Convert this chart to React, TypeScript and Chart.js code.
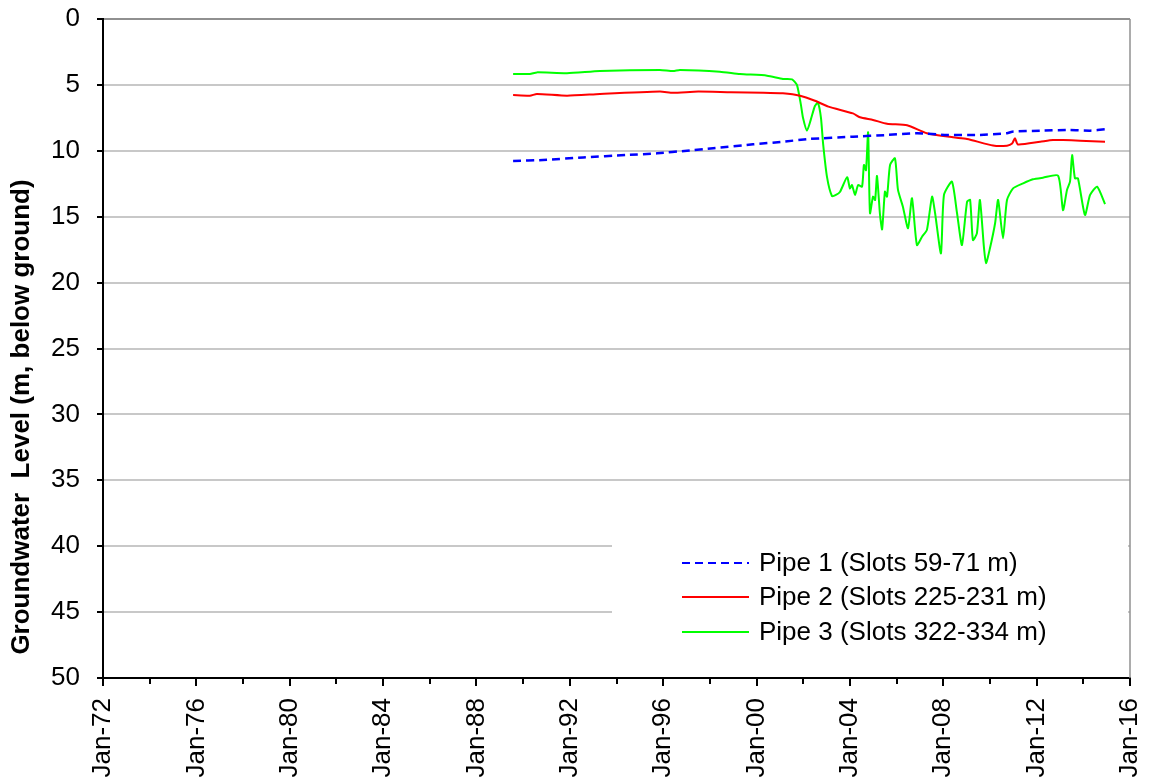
import React, { useEffect, useRef } from 'react';
import { Chart, registerables } from 'chart.js';

Chart.register(...registerables);

// ---- Data (decimal years, metres below ground) ----
const pipe1Years = [1989.57, 1990.85, 1992.57, 1994.45, 1995.74, 1997.02, 1998.14, 1999.85, 2001.13, 2002.29, 2004.13, 2005.59, 2006.88, 2008.16, 2009.45, 2010.73, 2010.95, 2012.15, 2013.43, 2014.29, 2014.93];
const pipe1Levels = [10.77, 10.7, 10.5, 10.32, 10.19, 9.99, 9.81, 9.51, 9.31, 9.1, 8.93, 8.8, 8.67, 8.8, 8.8, 8.67, 8.55, 8.47, 8.42, 8.47, 8.37];

const pipe2Years = [1989.57, 1990.29, 1990.59, 1991.88, 1993.29, 1995.86, 1996.42, 1997.5, 1998.9, 2000.3, 2001.13, 2001.86, 2002.5, 2003.08, 2004.13, 2004.43, 2004.99, 2005.59, 2006.45, 2007.3, 2008.42, 2009.02, 2010.13, 2010.73, 2010.95, 2011.07, 2011.2, 2012.15, 2012.7, 2013.13, 2013.86, 2014.93];
const pipe2Levels = [5.77, 5.82, 5.69, 5.82, 5.69, 5.51, 5.59, 5.51, 5.56, 5.59, 5.64, 5.82, 6.2, 6.65, 7.16, 7.46, 7.66, 7.95, 8.06, 8.67, 8.98, 9.1, 9.6, 9.61, 9.45, 9.05, 9.52, 9.31, 9.18, 9.18, 9.23, 9.31];

const pipe3Years = [1989.57, 1990.29, 1990.59, 1991.88, 1993.29, 1995.86, 1996.42, 1996.72, 1998.43, 1999.29, 2000.45, 2001.13, 2001.52, 2001.73, 2001.9, 2001.99, 2002.16, 2002.33, 2002.5, 2002.63, 2002.76, 2002.85, 2003.02, 2003.23, 2003.4, 2003.58, 2003.88, 2004.0, 2004.09, 2004.22, 2004.35, 2004.52, 2004.6, 2004.69, 2004.78, 2004.86, 2004.99, 2005.08, 2005.16, 2005.29, 2005.38, 2005.5, 2005.59, 2005.72, 2005.93, 2006.06, 2006.27, 2006.49, 2006.66, 2006.87, 2007.09, 2007.3, 2007.52, 2007.65, 2007.9, 2008.03, 2008.37, 2008.59, 2008.8, 2009.02, 2009.15, 2009.27, 2009.44, 2009.57, 2009.74, 2009.83, 2010.0, 2010.22, 2010.35, 2010.56, 2010.73, 2010.99, 2011.42, 2011.84, 2012.27, 2012.92, 2013.13, 2013.3, 2013.43, 2013.52, 2013.64, 2013.77, 2014.07, 2014.29, 2014.59, 2014.93];
const pipe3Levels = [4.17, 4.17, 4.05, 4.12, 3.95, 3.87, 3.95, 3.87, 4.0, 4.17, 4.3, 4.55, 4.58, 5.0, 6.5, 7.5, 8.47, 7.6, 6.6, 6.35, 7.5, 9.43, 12.0, 13.43, 13.35, 13.1, 12.0, 12.85, 12.6, 13.35, 12.6, 12.72, 11.08, 11.47, 8.6, 14.74, 13.48, 13.73, 11.91, 14.87, 15.96, 13.1, 13.48, 11.08, 10.57, 12.97, 14.24, 15.88, 13.6, 17.15, 16.52, 16.0, 13.48, 14.74, 17.78, 13.35, 12.34, 14.74, 17.15, 13.86, 13.73, 16.77, 16.26, 13.73, 17.28, 18.54, 17.4, 15.5, 13.73, 16.64, 13.73, 12.85, 12.47, 12.16, 12.04, 11.89, 14.5, 12.97, 12.34, 10.32, 12.09, 12.09, 14.87, 13.35, 12.72, 14.04];

const seriesLabels = ['Pipe 1 (Slots 59-71 m)', 'Pipe 2 (Slots 225-231 m)', 'Pipe 3 (Slots 322-334 m)'];
const seriesColors = ['#0000ff', '#ff0000', '#00ff00'];

const xMajorTicks = [1972, 1976, 1980, 1984, 1988, 1992, 1996, 2000, 2004, 2008, 2012, 2016];
const xMinorTicks = [1974, 1978, 1982, 1986, 1990, 1994, 1998, 2002, 2006, 2010, 2014];
const yTicks = [0, 5, 10, 15, 20, 25, 30, 35, 40, 45, 50];

const yTitle = 'Groundwater  Level (m, below ground)';
const FONT = '"Liberation Sans", Arial, sans-serif';

const toPoints = (xs: number[], ys: number[]) => xs.map((x, i) => ({ x, y: ys[i] }));

const decorPlugin = {
  id: 'decor',
  beforeDatasetsDraw(chart: any) {
    const { ctx, chartArea } = chart;
    ctx.save();
    // right border of plot area
    ctx.strokeStyle = '#909090';
    ctx.lineWidth = 1.5;
    ctx.beginPath();
    ctx.moveTo(chartArea.right, chartArea.top);
    ctx.lineTo(chartArea.right, chartArea.bottom);
    ctx.stroke();
    // legend background
    ctx.fillStyle = '#ffffff';
    ctx.fillRect(chartArea.right - 518, chartArea.bottom - 150, 516, 125);
    ctx.restore();
  },
  afterDraw(chart: any) {
    const { ctx, chartArea, scales } = chart;
    const xs = scales.x;
    ctx.save();
    // minor x ticks
    ctx.strokeStyle = '#000';
    ctx.lineWidth = 2;
    xMinorTicks.forEach((v) => {
      const px = Math.round(xs.getPixelForValue(v));
      ctx.beginPath();
      ctx.moveTo(px, chartArea.bottom);
      ctx.lineTo(px, chartArea.bottom + 6);
      ctx.stroke();
    });
    // y axis title
    ctx.save();
    ctx.translate(22, chartArea.top + 398);
    ctx.rotate(-Math.PI / 2);
    ctx.font = `bold 26px ${FONT}`;
    ctx.fillStyle = '#000';
    ctx.textAlign = 'center';
    ctx.textBaseline = 'middle';
    ctx.fillText(yTitle, 0, 0);
    ctx.restore();
    // legend
    const rows = [-115, -81, -46];
    chart.data.datasets.forEach((ds: any, i: number) => {
      const y = chartArea.bottom + rows[i];
      ctx.strokeStyle = ds.borderColor;
      ctx.lineWidth = 2;
      ctx.setLineDash(ds.borderDash || []);
      ctx.beginPath();
      ctx.moveTo(chartArea.right - 448, y);
      ctx.lineTo(chartArea.right - 381, y);
      ctx.stroke();
      ctx.setLineDash([]);
      ctx.fillStyle = '#000';
      ctx.font = `26px ${FONT}`;
      ctx.textBaseline = 'middle';
      ctx.textAlign = 'left';
      ctx.fillText(ds.label, chartArea.right - 371, y + 1);
    });
    ctx.restore();
  },
};

export default function App() {
  const canvasRef = useRef<HTMLCanvasElement | null>(null);

  useEffect(() => {
    document.body.style.margin = '0';
    const canvas = canvasRef.current;
    if (!canvas) return;
    Chart.defaults.font.family = FONT;
    Chart.defaults.color = '#000';
    const chart = new Chart(canvas, {
      type: 'line',
      data: {
        datasets: [
          {
            label: seriesLabels[0],
            data: toPoints(pipe1Years, pipe1Levels),
            borderColor: seriesColors[0],
            borderWidth: 2.5,
            borderDash: [8, 5],
            pointRadius: 0,
            tension: 0.2,
            fill: false,
          },
          {
            label: seriesLabels[1],
            data: toPoints(pipe2Years, pipe2Levels),
            borderColor: seriesColors[1],
            borderWidth: 2,
            pointRadius: 0,
            tension: 0.2,
            fill: false,
          },
          {
            label: seriesLabels[2],
            data: toPoints(pipe3Years, pipe3Levels),
            borderColor: seriesColors[2],
            borderWidth: 2,
            pointRadius: 0,
            tension: 0.2,
            fill: false,
          },
        ],
      },
      options: {
        responsive: false,
        animation: false,
        events: [],
        layout: { padding: { top: 19, right: 20, left: 6, bottom: 0 } },
        plugins: {
          legend: { display: false },
          tooltip: { enabled: false },
        },
        scales: {
          x: {
            type: 'linear',
            min: 1972,
            max: 2016,
            afterBuildTicks: (scale: any) => {
              scale.ticks = xMajorTicks.map((v) => ({ value: v }));
            },
            afterFit: (scale: any) => {
              scale.height = 103;
              scale.paddingLeft = 0;
              scale.paddingRight = 0;
            },
            grid: {
              display: true,
              drawOnChartArea: false,
              drawTicks: true,
              tickLength: 8,
              tickColor: '#000',
              lineWidth: 2,
            },
            border: { display: true, color: '#000', width: 2 },
            ticks: {
              autoSkip: false,
              minRotation: 90,
              maxRotation: 90,
              padding: 12,
              font: { size: 26, family: FONT },
              color: '#000',
              callback: (v: any) => 'Jan-' + String(Number(v) % 100).padStart(2, '0'),
            },
          },
          y: {
            type: 'linear',
            reverse: true,
            min: 0,
            max: 50,
            afterBuildTicks: (scale: any) => {
              scale.ticks = yTicks.map((v) => ({ value: v }));
            },
            afterFit: (scale: any) => {
              scale.width = 97;
              scale.paddingTop = 0;
              scale.paddingBottom = 0;
            },
            grid: {
              color: (c: any) => (c.tick && c.tick.value === 0 ? '#909090' : '#c8c8c8'),
              lineWidth: 2,
              drawTicks: true,
              tickLength: 6,
              tickColor: '#000',
            },
            border: { display: true, color: '#000', width: 2 },
            ticks: {
              padding: 17,
              font: { size: 26, family: FONT },
              color: '#000',
            },
          },
        },
      },
      plugins: [decorPlugin],
    } as any);
    return () => {
      chart.destroy();
    };
  }, []);

  return (
    <div style={{ position: 'absolute', left: 0, top: 0, width: 1150, height: 781, background: '#fff' }}>
      <canvas ref={canvasRef} width={1150} height={781} style={{ display: 'block' }} />
    </div>
  );
}
